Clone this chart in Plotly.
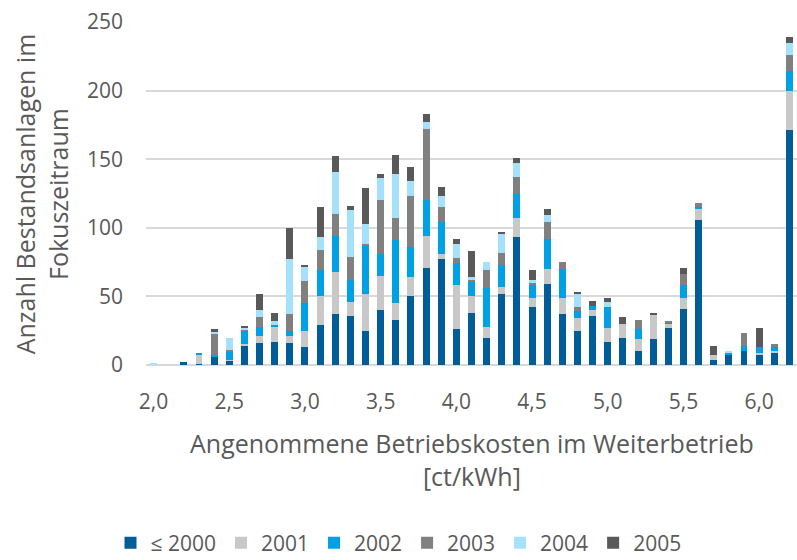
import plotly.graph_objects as go

# Assumed operating cost in continued operation [ct/kWh], one bar per 0.1 step
kosten = [2.0, 2.1, 2.2, 2.3, 2.4, 2.5, 2.6, 2.7, 2.8, 2.9,
          3.0, 3.1, 3.2, 3.3, 3.4, 3.5, 3.6, 3.7, 3.8, 3.9,
          4.0, 4.1, 4.2, 4.3, 4.4, 4.5, 4.6, 4.7, 4.8, 4.9,
          5.0, 5.1, 5.2, 5.3, 5.4, 5.5, 5.6, 5.7, 5.8, 5.9,
          6.0, 6.1, 6.2]

# Number of existing plants per commissioning year
bis_2000 = [0, 0, 2, 1, 6, 3, 14, 16, 17, 16,
            13, 29, 37, 36, 25, 40, 33, 50, 71, 77,
            26, 38, 20, 52, 93, 42, 59, 37, 25, 36,
            17, 20, 10, 19, 27, 41, 106, 4, 7, 10,
            7, 9, 171]
j2001 = [0, 0, 0, 7, 0, 1, 1, 5, 11, 5,
         12, 21, 31, 10, 27, 25, 12, 14, 23, 4,
         32, 12, 8, 5, 14, 7, 11, 12, 9, 4,
         10, 10, 9, 18, 3, 8, 8, 3, 0, 0,
         2, 1, 29]
j2002 = [0, 0, 0, 1, 1, 6, 10, 7, 1, 4,
         20, 19, 26, 16, 35, 16, 46, 22, 26, 23,
         16, 11, 28, 16, 18, 10, 22, 21, 5, 3,
         15, 0, 7, 0, 1, 9, 1, 0, 2, 4,
         4, 3, 14]
j2003 = [0, 0, 0, 0, 16, 1, 1, 7, 0, 12,
         16, 15, 16, 17, 1, 39, 16, 37, 52, 11,
         4, 1, 13, 9, 12, 1, 12, 5, 3, 0,
         0, 0, 7, 0, 1, 8, 3, 0, 0, 9,
         0, 2, 12]
j2004 = [1, 0, 0, 0, 1, 9, 1, 5, 3, 40,
         11, 9, 31, 34, 15, 16, 32, 11, 5, 8,
         10, 2, 6, 14, 10, 2, 5, 0, 10, 0,
         4, 0, 0, 0, 0, 0, 0, 0, 1, 0,
         0, 0, 9]
j2005 = [0, 0, 0, 0, 2, 0, 1, 12, 6, 23,
         1, 22, 11, 3, 26, 3, 14, 10, 6, 7,
         4, 19, 0, 1, 4, 7, 5, 0, 1, 4,
         3, 5, 0, 1, 0, 5, 0, 7, 0, 0,
         14, 0, 4]

serien = ["≤ 2000", "2001", "2002", "2003", "2004", "2005"]
werte = [bis_2000, j2001, j2002, j2003, j2004, j2005]
farben = ["#005D98", "#C8C8C8", "#00A1E4", "#808080", "#A5E1FB", "#595959"]

x_ticks = [2.0, 2.5, 3.0, 3.5, 4.0, 4.5, 5.0, 5.5, 6.0]
x_ticktext = ["2,0", "2,5", "3,0", "3,5", "4,0", "4,5", "5,0", "5,5", "6,0"]

FONT = "Open Sans"
GREY = "#595959"
FS_TICK = 21
FS_TITLE = 25
FS_LEG = 21

fig = go.Figure()
for name, vals, col in zip(serien, werte, farben):
    fig.add_trace(go.Bar(x=kosten, y=vals, name=name,
                         marker=dict(color=col, line=dict(width=0))))

fig.update_layout(
    width=797, height=560,
    margin=dict(l=146, r=0, t=22, b=195),
    barmode="stack", bargap=0.54,
    plot_bgcolor="white", paper_bgcolor="white",
    font=dict(family=FONT, size=FS_TICK, color=GREY),
    xaxis=dict(range=[1.95, 6.25], tickvals=x_ticks, ticktext=x_ticktext,
               showgrid=False, zeroline=False, showline=False, ticks="",
               ticklabelstandoff=22, tickfont=dict(size=FS_TICK, color=GREY)),
    yaxis=dict(range=[0, 250], dtick=50, showgrid=True, gridcolor="#D9D9D9",
               gridwidth=1.5, zeroline=True, zerolinecolor="#D9D9D9",
               zerolinewidth=1.5, showline=False, ticks="",
               ticklabelstandoff=22, tickfont=dict(size=FS_TICK, color=GREY)),
    legend=dict(orientation="h", xref="container", yref="container",
                x=0.5, xanchor="center", y=0.03, yanchor="middle",
                font=dict(size=FS_LEG, color=GREY), traceorder="normal",
                itemwidth=30),
    showlegend=True,
)

fig.add_annotation(text="Anzahl Bestandsanlagen im<br>Fokuszeitraum",
                   xref="paper", yref="paper", x=-0.16, y=0.5,
                   xanchor="center", yanchor="middle", textangle=-90,
                   showarrow=False, font=dict(size=FS_TITLE, color=GREY))
fig.add_annotation(text="Angenommene Betriebskosten im Weiterbetrieb<br>[ct/kWh]",
                   xref="paper", yref="paper", x=0.5, y=-0.275,
                   xanchor="center", yanchor="middle",
                   showarrow=False, font=dict(size=FS_TITLE, color=GREY))

fig.write_html("out.html")
